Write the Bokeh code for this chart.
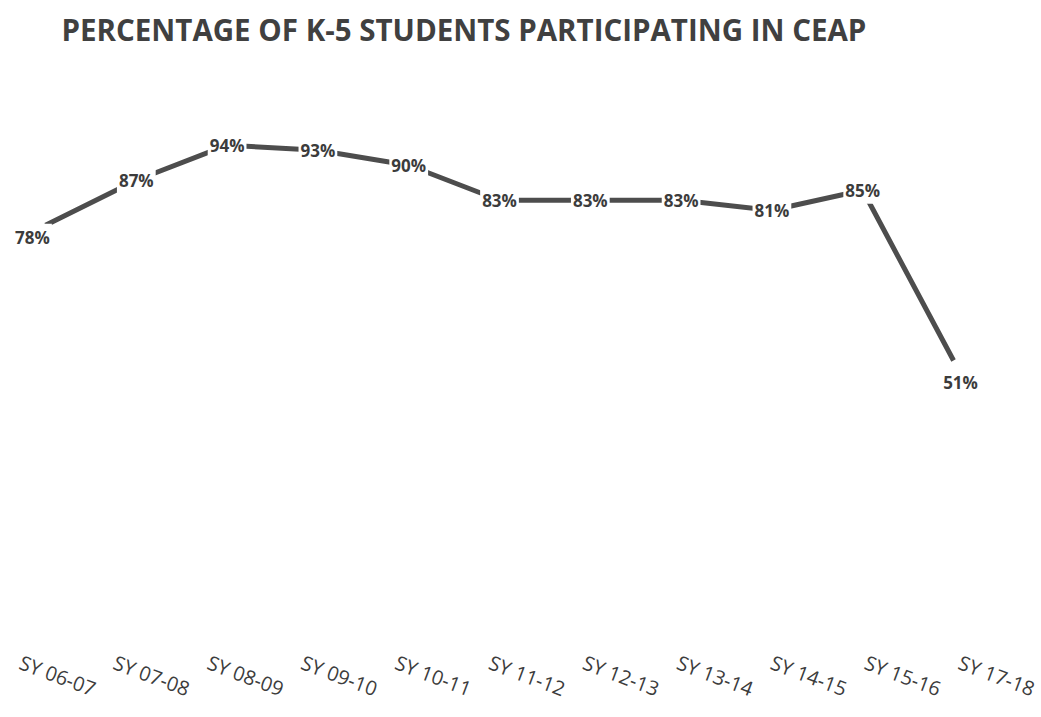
from bokeh.plotting import figure
from bokeh.models import Range1d, FixedTicker, ColumnDataSource, LinearAxis
from bokeh.core.properties import value
from bokeh.embed import file_html
from bokeh.resources import INLINE

years = ["SY 06-07", "SY 07-08", "SY 08-09", "SY 09-10", "SY 10-11", "SY 11-12",
         "SY 12-13", "SY 13-14", "SY 14-15", "SY 15-16", "SY 17-18"]
pct = [78, 87, 94, 93, 90, 83, 83, 83, 81, 85, 51]

idx = list(range(len(years)))
labels = [f"{v}%" for v in pct]
# label placement offsets (pixels): first and last labels sit off the point
dx = [-13] + [0] * (len(years) - 2) + [7]
dy = [12] + [0] * (len(years) - 2) + [22]

src = ColumnDataSource(dict(x=idx, y=pct, lab=labels, dx=dx, dy=dy))

p = figure(width=1041, height=717, output_backend="svg", toolbar_location=None,
           x_range=Range1d(-0.4956, 10.969), y_range=Range1d(4.48, 112.31),
           min_border_left=0, min_border_right=0, min_border_top=53, min_border_bottom=0)

p.title.text = "PERCENTAGE OF K-5 STUDENTS PARTICIPATING IN CEAP"
p.title.text_font = "Open Sans"
p.title.text_font_style = "bold"
p.title.text_font_size = "29.5px"
p.title.text_color = "#404040"
p.title.align = "left"
p.title.offset = 61
p.title.standoff = 7

p.outline_line_color = None
p.xgrid.visible = False
p.ygrid.visible = False
p.yaxis.visible = False
p.xaxis.visible = False
p.background_fill_color = "white"
p.border_fill_color = "white"

p.line("x", "y", source=src, line_color="#4d4d4d", line_width=5)
p.text("x", "y", text="lab", source=src, x_offset="dx", y_offset="dy",
       text_font=value("Open Sans"), text_font_style="bold", text_font_size="17px",
       text_color="#3c3c3c", text_align="center", text_baseline="middle",
       background_fill_color="white", padding=2)

# category axis (labels sit slightly left of the points, as in the original)
p.extra_x_ranges = {"lab": Range1d(-0.213, 10.873)}
ax = LinearAxis(x_range_name="lab")
ax.ticker = FixedTicker(ticks=idx)
ax.major_label_overrides = {i: y for i, y in zip(idx, years)}
ax.major_label_orientation = -0.36
ax.major_label_text_font = "Open Sans"
ax.major_label_text_font_size = "20px"
ax.major_label_text_color = "#3c3c3c"
ax.major_label_standoff = 62
ax.axis_line_color = None
ax.major_tick_line_color = None
ax.minor_tick_line_color = None
p.add_layout(ax, "below")

open("out.html", "w").write(file_html(p, INLINE))
